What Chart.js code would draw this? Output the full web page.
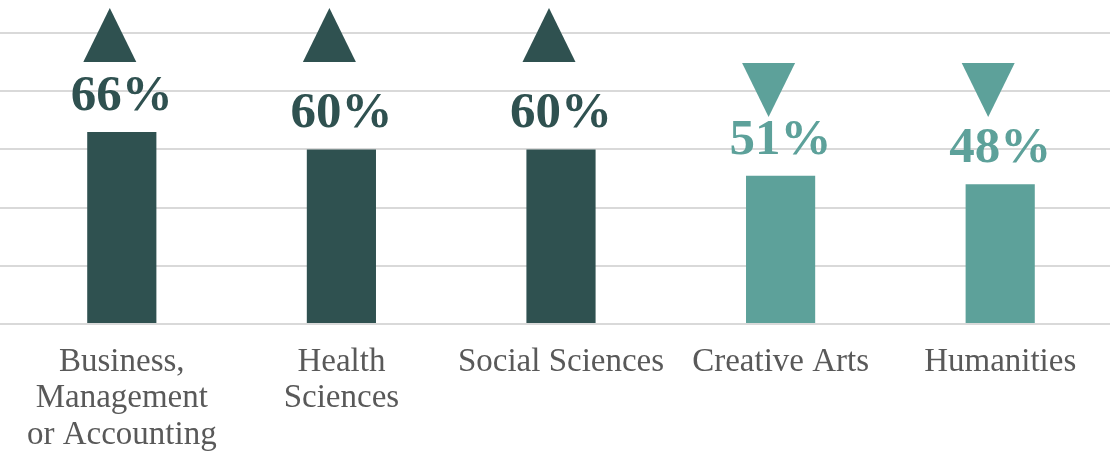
<!DOCTYPE html>
<html>
<head>
<meta charset="utf-8">
<script src="https://cdn.jsdelivr.net/npm/chart.js@4"></script>
<style>
  html, body { margin: 0; padding: 0; background: #fff; }
  #wrap { width: 1114px; height: 455px; }
</style>
</head>
<body>
<div id="wrap"><canvas id="subjects"></canvas></div>
<script>
var subjects = [
  ["Business,", "Management", "or Accounting"],
  ["Health", "Sciences"],
  "Social Sciences",
  "Creative Arts",
  "Humanities"
];
var shares = [66, 60, 60, 51, 48];
var trend = ["up", "up", "up", "down", "down"];

var DARK = '#2f5150';
var TEAL = '#5da19a';

function colourFor(i) {
  return trend[i] === 'up' ? DARK : TEAL;
}

/* draws the % value above each bar and the up/down arrow heads */
var markers = {
  id: 'markers',
  afterDatasetsDraw: function (chart) {
    var ctx = chart.ctx;
    var xs = chart.scales.x, ys = chart.scales.y;
    ctx.save();
    shares.forEach(function (v, i) {
      var cx = xs.getPixelForValue(i);
      var top = ys.getPixelForValue(v);
      ctx.fillStyle = colourFor(i);
      ctx.font = 'bold 51px "Liberation Serif"';
      ctx.textAlign = 'center';
      ctx.textBaseline = 'alphabetic';
      ctx.fillText(v + '%', cx, top - 22);

      var tx = cx - 12, w = 53, h = 54;
      ctx.beginPath();
      if (trend[i] === 'up') {
        var base = ys.getPixelForValue(90);
        ctx.moveTo(tx, base - h);
        ctx.lineTo(tx + w / 2, base);
        ctx.lineTo(tx - w / 2, base);
      } else {
        var topY = ys.getPixelForValue(89.7);
        ctx.moveTo(tx - w / 2, topY);
        ctx.lineTo(tx + w / 2, topY);
        ctx.lineTo(tx, topY + h);
      }
      ctx.closePath();
      ctx.fill();
    });
    ctx.restore();
  }
};

var chart = new Chart(document.getElementById('subjects'), {
  type: 'bar',
  data: {
    labels: subjects,
    datasets: [{
      data: shares,
      backgroundColor: shares.map(function (v, i) { return colourFor(i); }),
      categoryPercentage: 1,
      barPercentage: 0.315
    }]
  },
  options: {
    responsive: true,
    maintainAspectRatio: false,
    animation: false,
    layout: { padding: { top: 33, right: 4, bottom: -18, left: 0 } },
    plugins: {
      legend: { display: false },
      tooltip: { enabled: false }
    },
    scales: {
      x: {
        grid: { display: false, drawTicks: false },
        border: { display: false },
        ticks: {
          color: '#595959',
          font: { family: '"Liberation Serif"', size: 33, lineHeight: 1.1 },
          padding: 20,
          maxRotation: 0,
          autoSkip: false
        }
      },
      y: {
        min: 0,
        max: 100,
        ticks: { display: false, stepSize: 20 },
        grid: { color: '#d9d9d9', lineWidth: 2, tickLength: 12 },
        border: { display: false }
      }
    }
  },
  plugins: [markers]
});
</script>
</body>
</html>
